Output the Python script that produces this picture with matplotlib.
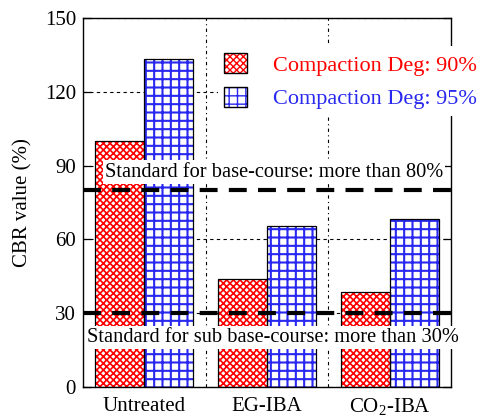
#!/usr/bin/env python3
"""CBR value bar chart: two compaction degrees per material."""

import matplotlib
matplotlib.use("Agg")
import matplotlib.pyplot as plt
import matplotlib.patches as mpatches
import numpy as np

CATEGORIES = ["Untreated", "EG-IBA", "CO$_2$-IBA"]
CBR_90 = [100.0, 44.0, 38.5]
CBR_95 = [133.3, 65.4, 68.2]
SERIES_LABELS = ["Compaction Deg: 90%", "Compaction Deg: 95%"]
STANDARD_LEVELS = [80, 30]
STANDARD_TEXTS = ["Standard for base-course: more than 80%",
                  "Standard for sub base-course: more than 30%"]
Y_TICKS = [0, 30, 60, 90, 120, 150]

RED = "#FF0000"
BLUE = "#2828F0"
INK = "black"
SERIF = ["Liberation Serif", "DejaVu Serif"]

plt.rcParams.update({
    "font.family": SERIF,
    "mathtext.fontset": "custom",
    "mathtext.rm": "Liberation Serif",
})

STYLES = [(RED, "xxxxx", 1.2), (BLUE, "++", 1.5)]


def hatched_bars(ax, x, heights, width, color, hatch, hlw):
    with plt.rc_context({"hatch.linewidth": hlw}):
        ax.bar(x, heights, width, facecolor="white", edgecolor=color, hatch=hatch,
               linewidth=0, zorder=2)
    ax.bar(x, heights, width, facecolor="none", edgecolor=INK, linewidth=0.9, zorder=3)


def main():
    fig = plt.figure(figsize=(4.78, 4.19), dpi=100, facecolor="white")
    ax = fig.add_axes([0.1736, 0.0764, 0.7699, 0.8806])

    centers = np.arange(len(CATEGORIES)) + 0.5
    width = 0.4
    for offset, values, (color, hatch, hlw) in zip((-width / 2, width / 2), (CBR_90, CBR_95), STYLES):
        hatched_bars(ax, centers + offset, values, width, color, hatch, hlw)

    ax.set_xlim(0, len(CATEGORIES))
    ax.set_ylim(0, 150)
    ax.set_yticks(Y_TICKS)
    ax.set_xticks(centers)
    ax.set_xticklabels(CATEGORIES, fontsize=15)
    ax.set_xticks(np.arange(1, len(CATEGORIES)), minor=True)
    ax.tick_params(axis="x", which="both", length=0, pad=7)
    ax.tick_params(axis="y", direction="in", length=6, width=0.9, labelsize=15,
                   right=True, pad=5)
    ax.grid(axis="y", which="major", color=INK, lw=0.8, ls=(0, (3, 3)), zorder=0)
    ax.grid(axis="x", which="minor", color=INK, lw=0.8, ls=(0, (3, 3, 1, 3)), zorder=0)
    ax.set_axisbelow(True)
    for spine in ax.spines.values():
        spine.set_linewidth(1.0)
    ax.set_ylabel("CBR value (%)", fontsize=15, labelpad=9)

    for level in STANDARD_LEVELS:
        ax.axhline(level, color=INK, lw=3.0, ls=(0, (4.3, 2.7)), zorder=5)

    box = dict(boxstyle="square,pad=0.1", facecolor="white", edgecolor="none")
    ax.text(1.555, 87.4, STANDARD_TEXTS[0], ha="center", va="center",
            fontsize=14.7, bbox=box, zorder=6)
    ax.text(1.55, 20.3, STANDARD_TEXTS[1], ha="center", va="center",
            fontsize=14.7, bbox=box, zorder=6)

    handles = []
    for color, hatch, hlw in STYLES:
        with plt.rc_context({"hatch.linewidth": hlw}):
            handles.append(mpatches.Patch(facecolor="white", edgecolor=color, hatch=hatch, lw=0))
    leg = ax.legend(handles, SERIES_LABELS, loc="upper left", bbox_to_anchor=(0.366, 0.923),
                    prop=dict(family=SERIF, size=16), frameon=True, fancybox=False,
                    framealpha=1, edgecolor="none", facecolor="white", handlelength=1.0,
                    handleheight=1.0, handletextpad=1.2, labelspacing=0.5,
                    borderpad=0.3, borderaxespad=0)
    leg.set_zorder(4)
    for text, (color, _, _) in zip(leg.get_texts(), STYLES):
        text.set_color(color)

    # black outline around each legend swatch
    fig.canvas.draw()
    for patch in leg.get_patches():
        bb = patch.get_window_extent()
        fig.patches.append(mpatches.Rectangle((bb.x0, bb.y0), bb.width, bb.height,
                                              facecolor="none", edgecolor=INK, lw=1.0,
                                              transform=None, zorder=10))

    fig.savefig("out.png", dpi=100, facecolor="white")
    plt.close(fig)


if __name__ == "__main__":
    main()
